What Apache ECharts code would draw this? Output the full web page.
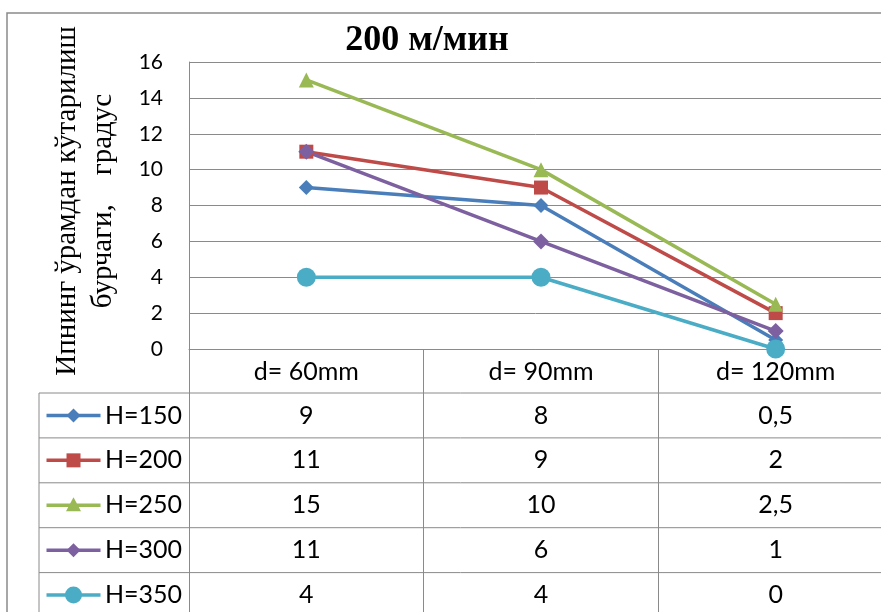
<!DOCTYPE html>
<html>
<head>
<meta charset="utf-8">
<script src="https://cdn.jsdelivr.net/npm/echarts@6/dist/echarts.min.js"></script>
<style>
  html, body { margin: 0; padding: 0; background: #fff; overflow: hidden; }
  #chart { width: 881px; height: 612px; }
</style>
</head>
<body>
<div id="chart"></div>
<script>
// Chart data
const categories = ['d= 60mm', 'd= 90mm', 'd= 120mm'];
const seriesNames = ['H=150', 'H=200', 'H=250', 'H=300', 'H=350'];
const h150 = [9, 8, 0.5];
const h200 = [11, 9, 2];
const h250 = [15, 10, 2.5];
const h300 = [11, 6, 1];
const h350 = [4, 4, 0];
const yTicks = { min: 0, max: 16, interval: 2 };

const seriesValues = [h150, h200, h250, h300, h350];
const colors = ['#4A7EBB', '#BE4B48', '#98B954', '#7D60A0', '#4BACC6'];
const symbols = ['diamond', 'rect', 'triangle', 'diamond', 'circle'];
const symbolSizes = [15, 14, 15, 16, 19];

// the plot runs past the right edge of the page, as does the table under it
const GRID = { left: 189, top: 62, right: -12, height: 287 };
const HEADER_H = 44;
const ROW_H = 44.9;
const TABLE_LEFT = 39;
const LINE_GREY = '#8a8a8a';
const SANS = 'Lato, "Open Sans", sans-serif';
const SERIF = '"Liberation Serif", "DejaVu Serif", serif';

const chart = echarts.init(document.getElementById('chart'), null, { renderer: 'canvas' });

chart.setOption({
  animation: false,
  backgroundColor: '#fff',
  grid: {
    left: GRID.left, top: GRID.top, right: GRID.right, height: GRID.height,
    containLabel: false, outerBoundsMode: 'none'
  },
  xAxis: {
    type: 'category',
    data: categories,
    boundaryGap: true,
    axisLine: { show: true, lineStyle: { color: LINE_GREY, width: 1 } },
    axisTick: { show: true, interval: 0, alignWithLabel: false, length: 280, lineStyle: { color: LINE_GREY, width: 1 } },
    axisLabel: { interval: 0, margin: 10, fontFamily: SANS, fontSize: 25, lineHeight: 25, color: '#000', hideOverlap: false },
    splitLine: { show: false }
  },
  yAxis: {
    type: 'value',
    min: yTicks.min, max: yTicks.max, interval: yTicks.interval,
    axisLine: { show: true, lineStyle: { color: LINE_GREY, width: 1 } },
    axisTick: { show: false },
    axisLabel: { margin: 26, fontFamily: SANS, fontSize: 21, color: '#000' },
    splitLine: { show: true, lineStyle: { color: LINE_GREY, width: 1 } }
  },
  series: seriesNames.map((name, i) => ({
    name: name,
    type: 'line',
    data: seriesValues[i],
    symbol: symbols[i],
    symbolSize: symbolSizes[i],
    showAllSymbol: true,
    lineStyle: { color: colors[i], width: 3.5 },
    itemStyle: { color: colors[i] },
    emphasis: { disabled: true }
  }))
});

// Data table under the plot, with legend keys in the first column
function legendKey(i, cx, cy) {
  const c = colors[i];
  const parts = [{
    type: 'line', shape: { x1: cx - 27, y1: cy, x2: cx + 27, y2: cy },
    style: { stroke: c, lineWidth: 3.5 }, silent: true
  }];
  const s = symbols[i];
  if (s === 'diamond') {
    const r = 7;
    parts.push({ type: 'polygon', shape: { points: [[cx, cy - r], [cx + r, cy], [cx, cy + r], [cx - r, cy]] }, style: { fill: c }, silent: true });
  } else if (s === 'rect') {
    parts.push({ type: 'rect', shape: { x: cx - 7, y: cy - 7, width: 14, height: 14 }, style: { fill: c }, silent: true });
  } else if (s === 'triangle') {
    parts.push({ type: 'polygon', shape: { points: [[cx, cy - 8], [cx + 7.5, cy + 6], [cx - 7.5, cy + 6]] }, style: { fill: c }, silent: true });
  } else {
    parts.push({ type: 'circle', shape: { cx: cx, cy: cy, r: 8.5 }, style: { fill: c }, silent: true });
  }
  return parts;
}

function fmt(v) { return String(v).replace('.', ','); }

const graphics = [];
// outer chart border
graphics.push({ type: 'rect', shape: { x: 7, y: 13, width: 1000, height: 800 }, style: { fill: null, stroke: LINE_GREY, lineWidth: 1.5 }, silent: true });
// title
graphics.push({ type: 'text', x: 427, y: 41, style: { text: '200 м/мин', font: 'bold 36px ' + SERIF, fill: '#000', align: 'center', verticalAlign: 'middle' }, silent: true });
// y-axis title
graphics.push({
  type: 'text', x: 85, y: 201, rotation: Math.PI / 2,
  style: { text: 'Ипнинг ўрамдан кўтарилиш\nбурчаги,    градус', font: '29px ' + SERIF, lineHeight: 36, fill: '#000', align: 'center', verticalAlign: 'middle' },
  silent: true
});

const tableTop = GRID.top + GRID.height + HEADER_H;
const tableRight = 1000;
// left column border
graphics.push({ type: 'line', shape: { x1: TABLE_LEFT, y1: tableTop, x2: TABLE_LEFT, y2: tableTop + ROW_H * seriesNames.length + 2 }, style: { stroke: LINE_GREY, lineWidth: 1 }, silent: true });
for (let r = 0; r <= seriesNames.length; r++) {
  const y = tableTop + ROW_H * r;
  graphics.push({ type: 'line', shape: { x1: TABLE_LEFT, y1: y, x2: tableRight, y2: y }, style: { stroke: LINE_GREY, lineWidth: 1 }, silent: true });
}
seriesNames.forEach((name, i) => {
  const cy = tableTop + ROW_H * (i + 0.5);
  legendKey(i, 73.5, cy).forEach(g => graphics.push(g));
  graphics.push({ type: 'text', x: 105, y: cy, style: { text: name, font: '25px ' + SANS, fill: '#000', align: 'left', verticalAlign: 'middle' }, silent: true });
  seriesValues[i].forEach((v, j) => {
    const cx = chart.convertToPixel({ xAxisIndex: 0 }, j);
    graphics.push({ type: 'text', x: cx, y: cy, style: { text: fmt(v), font: '25px ' + SANS, fill: '#000', align: 'center', verticalAlign: 'middle' }, silent: true });
  });
});

chart.setOption({ graphic: { elements: graphics } });
</script>
</body>
</html>
